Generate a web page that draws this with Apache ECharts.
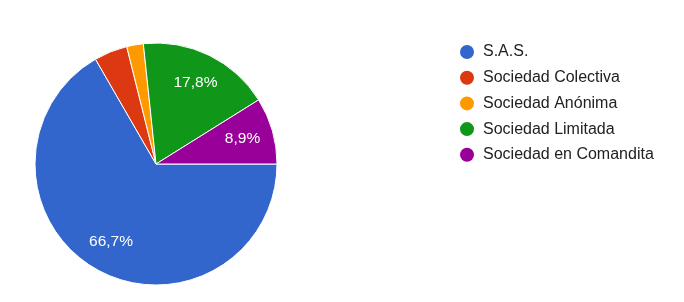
<!DOCTYPE html>
<html>
<head>
<meta charset="utf-8">
<script src="https://cdn.jsdelivr.net/npm/echarts@6/dist/echarts.min.js"></script>
<style>
  html, body { margin: 0; padding: 0; background: #fff; }
  #chart { width: 684px; height: 302px; }
</style>
</head>
<body>
<div id="chart"></div>
<script>
const categories = ['S.A.S.', 'Sociedad Colectiva', 'Sociedad Anónima', 'Sociedad Limitada', 'Sociedad en Comandita'];
const values = [30, 2, 1, 8, 4];
const colors = ['#3366cc', '#dc3912', '#ff9900', '#109618', '#990099'];

const FONT = 'Arial, "Liberation Sans", sans-serif';
const data = categories.map((name, i) => ({ name: name, value: values[i], itemStyle: { color: colors[i] } }));

const chart = echarts.init(document.getElementById('chart'), null, { renderer: 'canvas' });
chart.setOption({
  animation: false,
  color: colors,
  legend: {
    orient: 'vertical',
    left: 453,
    top: 38,
    icon: 'circle',
    itemWidth: 22,
    itemHeight: 16,
    itemGap: 7.7,
    selectedMode: false,
    data: categories,
    textStyle: { fontFamily: FONT, fontSize: 16, color: '#222222', lineHeight: 16 }
  },
  series: [
    {
      type: 'pie',
      center: [156, 164],
      radius: [0, 121],
      startAngle: 0,
      clockwise: true,
      label: { show: false },
      labelLine: { show: false },
      emphasis: { disabled: true },
      itemStyle: { borderColor: '#ffffff', borderWidth: 1 },
      data: data
    },
    {
      type: 'pie',
      center: [156, 164],
      radius: [53, 121],
      startAngle: 0,
      clockwise: true,
      silent: true,
      percentPrecision: 1,
      legendHoverLink: false,
      emphasis: { disabled: true },
      itemStyle: { color: 'rgba(0,0,0,0)', borderWidth: 0 },
      labelLine: { show: false },
      label: {
        show: true,
        position: 'inside',
        color: '#ffffff',
        fontFamily: FONT,
        fontSize: 15.5,
        formatter: function (p) {
          if (p.percent < 5) return '';
          return p.percent.toFixed(1).replace('.', ',') + '%';
        }
      },
      data: categories.map((name, i) => ({ name: name, value: values[i] }))
    }
  ]
});
</script>
</body>
</html>
